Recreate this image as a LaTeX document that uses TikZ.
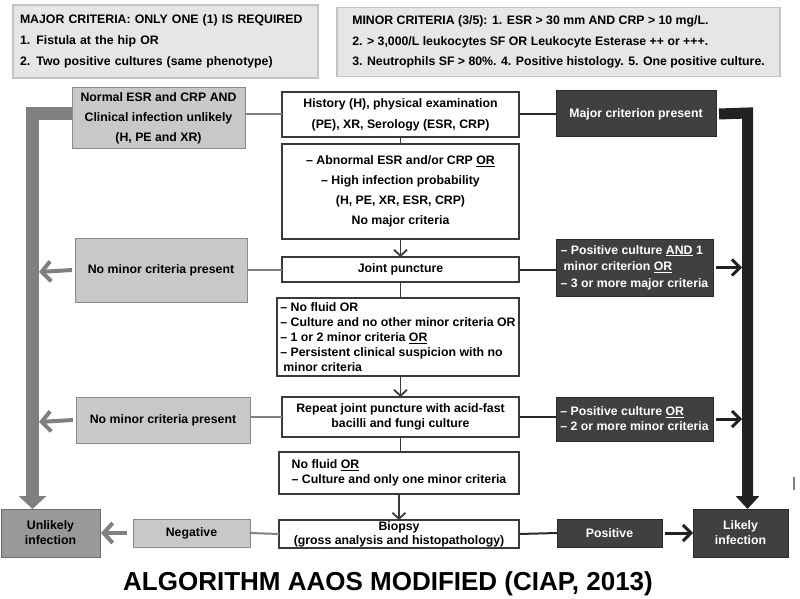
\documentclass[tikz,border=0pt]{standalone}
\usepackage{fontspec}
\setmainfont{Liberation Sans}
\usetikzlibrary{arrows.meta}
\definecolor{hdrfill}{HTML}{E6E6E6}
\definecolor{hdrline}{HTML}{C4C4C4}
\definecolor{mainline}{HTML}{3A3A3A}
\definecolor{grayfill}{HTML}{C8C8C8}
\definecolor{grayline}{HTML}{8A8A8A}
\definecolor{midfill}{HTML}{999999}
\definecolor{midline}{HTML}{6E6E6E}
\definecolor{darkfill}{HTML}{404040}
\definecolor{darkline}{HTML}{2A2A2A}
\definecolor{thickgray}{HTML}{808080}
\definecolor{thickdark}{HTML}{222222}
\begin{document}
\begin{tikzpicture}[x=1pt,y=-1pt,
  every node/.style={font=\bfseries\fontsize{12.3}{15}\selectfont, inner sep=0pt, outer sep=0pt},
  hdr/.style={draw=hdrline, fill=hdrfill, line width=1.8pt, align=left},
  mainbox/.style={draw=mainline, fill=white, line width=1.2pt, align=center},
  graybox/.style={draw=grayline, fill=grayfill, line width=1pt, align=center},
  midbox/.style={draw=midline, fill=midfill, line width=1pt, align=center},
  darkbox/.style={draw=darkline, fill=darkfill, line width=1pt, align=center, text=white},
  sz/.style 2 args={minimum width=#1, minimum height=#2},
  lsp/.style={font=\bfseries\fontsize{12.3}{#1}\selectfont},
  bigL/.style={draw=thickgray, line width=13pt, -{Triangle[width=27pt,length=13pt]}},
  bigR/.style={draw=thickdark, line width=11pt, -{Triangle[width=23pt,length=13pt]}},
  smallgray/.style={draw=thickgray, line width=4pt, -{Straight Barb[length=9pt,width=20pt]}},
  smalldark/.style={draw=thickdark, line width=3pt, -{Straight Barb[length=8pt,width=16pt]}},
  linkL/.style={draw=thickgray, line width=2pt},
  linkR/.style={draw=darkline, line width=2pt},
  vlink/.style={draw=mainline, line width=1.6pt},
  varrow/.style={draw=mainline, line width=1.8pt, -{Straight Barb[length=6pt,width=13pt]}}
]
\useasboundingbox (0,0) rectangle (800,599);

% header boxes
\node[hdr, sz={305pt}{73pt}, text width=291pt, inner xsep=7pt, lsp=21] (major) at (165.5,41.5)
  {MAJOR CRITERIA: ONLY ONE (1) IS REQUIRED\\1. Fistula at the hip OR\\2. Two positive cultures (same phenotype)};
\node[hdr, sz={443pt}{69pt}, lsp=20.5] (minor) at (558.5,42)
  {MINOR CRITERIA (3/5): 1. ESR > 30 mm AND CRP > 10 mg/L.\\2. > 3,000/L leukocytes SF OR Leukocyte Esterase ++ or +++.\\3. Neutrophils SF > 80\%. 4. Positive histology. 5. One positive culture.};

% main column
\node[mainbox, sz={237pt}{45pt}, lsp=21] (history) at (400.5,114.5)
  {History (H), physical examination\\(PE), XR, Serology (ESR, CRP)};
\node[mainbox, sz={237pt}{95pt}, lsp=20] (abnormal) at (400.5,191.5)
  {– Abnormal ESR and/or CRP \underline{OR}\\– High infection probability\\(H, PE, XR, ESR, CRP)\\No major criteria};
\node[mainbox, sz={237pt}{25pt}] (joint) at (400.5,269.5) {Joint puncture};
\node[mainbox, sz={242pt}{78pt}, align=left, lsp=15] (nofluid) at (398,337)
  {– No fluid OR\\– Culture and no other minor criteria OR\\– 1 or 2 minor criteria \underline{OR}\\– Persistent clinical suspicion with no\\\hspace*{3pt}minor criteria};
\node[mainbox, sz={237pt}{40pt}, lsp=15] (repeat) at (400.5,417)
  {Repeat joint puncture with acid-fast\\bacilli and fungi culture};
\node[mainbox, sz={240pt}{42pt}, align=left, lsp=15] (nofluid2) at (399,473)
  {No fluid \underline{OR}\\– Culture and only one minor criteria};
\node[mainbox, sz={240pt}{28pt}, lsp=14] (biopsy) at (399,534)
  {Biopsy\\(gross analysis and histopathology)};

% left column
\node[graybox, sz={173pt}{60pt}, lsp=20] (normal) at (158.5,118)
  {Normal ESR and CRP AND\\Clinical infection unlikely\\(H, PE and XR)};
\node[graybox, sz={172pt}{64pt}] (nominor1) at (161,270) {No minor criteria present};
\node[graybox, sz={174pt}{46pt}] (nominor2) at (163,420) {No minor criteria present};
\node[graybox, sz={117pt}{28pt}] (negative) at (191.5,533) {Negative};
\node[midbox, sz={99pt}{48pt}] (unlikely) at (50.5,533) {Unlikely\\infection};

% right column
\node[darkbox, sz={160pt}{46pt}] (majorc) at (636,114) {Major criterion present};
\node[darkbox, sz={157pt}{57pt}, align=left, lsp=16.5] (poscult1) at (634.5,267.5)
  {– Positive culture \underline{AND} 1\\\hspace*{3pt}minor criterion \underline{OR}\\– 3 or more major criteria};
\node[darkbox, sz={157pt}{44pt}, align=left, lsp=15] (poscult2) at (634.5,419)
  {– Positive culture \underline{OR}\\– 2 or more minor criteria};
\node[darkbox, sz={105pt}{28pt}] (positive) at (609.5,533) {Positive};
\node[darkbox, sz={95pt}{48pt}] (likely) at (740.5,533) {Likely\\infection};

% title
\node[anchor=base, font=\bfseries\fontsize{26}{30}\selectfont] (title) at (388,590)
  {ALGORITHM AAOS MODIFIED (CIAP, 2013)};

% guide coordinates for thick lines
\coordinate (lx) at (32.5,114);
\coordinate (lxr) at (39,114);
\coordinate (rx) at (747.5,113);
\coordinate (rxl) at (742,113);

% main column links
\draw[vlink] (history.south) -- (abnormal.north);
\draw[varrow] (abnormal.south) -- (joint.north);
\draw[vlink] (joint.south) -- (joint.south |- nofluid.north);
\draw[varrow] (nofluid.south -| repeat.south) -- (repeat.north);
\draw[vlink] (repeat.south) -- (repeat.south |- nofluid2.north);
\draw[varrow] (nofluid2.south -| biopsy.north) -- (biopsy.north);

% side links
\draw[linkL] (history.west) -- (history.west -| normal.east);
\draw[linkR] (history.east) -- (history.east -| majorc.west);
\draw[linkL] (joint.west) -- (joint.west -| nominor1.east);
\draw[linkR] (joint.east) -- (joint.east -| poscult1.west);
\draw[linkL] (repeat.west) -- (repeat.west -| nominor2.east);
\draw[linkR] (repeat.east) -- (repeat.east -| poscult2.west);
\draw[linkL] (biopsy.west) -- (negative.east);
\draw[linkR] (biopsy.east) -- (positive.west);

% thick lines
\draw[bigL, line join=miter] ([yshift=4pt]normal.west) -- (lx) -- (lx |- unlikely.north);
\draw[bigR, line join=miter] ([xshift=3pt]majorc.east) -- (rx) -- (rx |- likely.north);

% small arrows
\draw[smallgray] ([xshift=-3pt]nominor1.west) -- ([yshift=-2pt]nominor1.west -| lxr);
\draw[smallgray] ([xshift=-3pt]nominor2.west) -- ([yshift=-2pt]nominor2.west -| lxr);
\draw[smallgray] ([xshift=-6pt]negative.west) -- ([xshift=1pt]unlikely.east);
\draw[smalldark] ([xshift=3pt]poscult1.east) -- (poscult1.east -| rxl);
\draw[smalldark] ([xshift=3pt]poscult2.east) -- (poscult2.east -| rxl);
\draw[smalldark] ([xshift=3pt]positive.east) -- (likely.west);

% stray tick
\draw[draw=thickgray, line width=1.5pt] (794,477) -- (794,490);
\end{tikzpicture}
\end{document}
